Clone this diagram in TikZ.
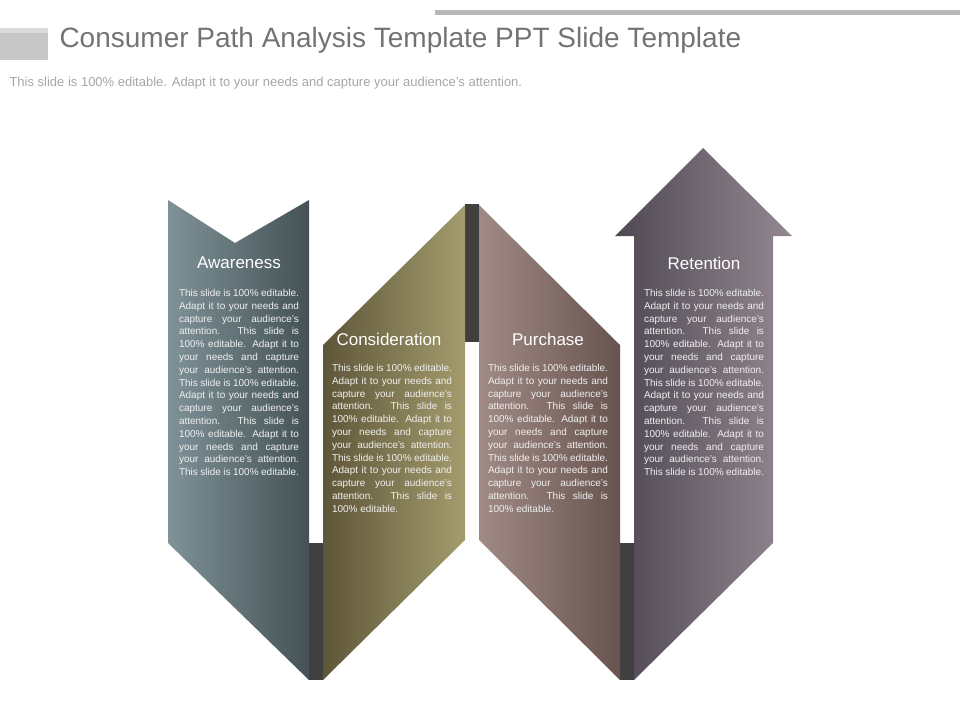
\documentclass[tikz,border=0pt]{standalone}
\usepackage{fontspec}
\setmainfont{Liberation Sans}
\newcommand{\bt}{This slide is 100\% editable. Adapt it to your needs and capture your audience's attention. }
\begin{document}
\begin{tikzpicture}[x=1pt,y=-1pt,
  lbl/.style={text=white,font=\fontsize{17}{20}\selectfont},
  body/.style={text=white!88!gray,anchor=north,inner sep=0pt,text width=120pt,align=justify,font=\fontsize{10}{12.8}\selectfont},
  bar/.style={fill=black!75}]
\useasboundingbox (0,0) rectangle (960,720);
% header
\fill[black!22] (0,28) rectangle (48,60);
\fill[black!14] (0,28) rectangle (48,33);
\fill[black!28] (435,10) rectangle (960,15);
\node[anchor=west,text=black!55,font=\fontsize{28}{32}\selectfont] (title) at (56,40) {Consumer Path Analysis Template PPT Slide Template};
\node[anchor=west,text=black!35,font=\fontsize{13}{15}\selectfont] (sub) at (6,83) {This slide is 100\% editable. Adapt it to your needs and capture your audience's attention.};
% bars
\fill[bar] (309,543) rectangle (323,680);
\fill[bar] (465,204) rectangle (479,342);
\fill[bar] (620,543) rectangle (634,680);
% shapes
\shade[left color={rgb,255:red,127;green,146;blue,152}, right color={rgb,255:red,68;green,82;blue,85}]
 (168,200) -- (235,243) -- (309,200) -- (309,680) -- (168,543) -- cycle;
\shade[left color={rgb,255:red,94;green,86;blue,56}, right color={rgb,255:red,164;green,156;blue,110}]
 (323,345) -- (465,205) -- (465,540) -- (323,680) -- cycle;
\shade[left color={rgb,255:red,160;green,138;blue,134}, right color={rgb,255:red,104;green,84;blue,78}]
 (479,205) -- (620,345) -- (620,680) -- (479,540) -- cycle;
\shade[left color={rgb,255:red,78;green,72;blue,82}, right color={rgb,255:red,148;green,136;blue,146}]
 (634,236) -- (615,236) -- (703,148) -- (792,236) -- (773,236) -- (773,543) -- (634,680) -- cycle;
% labels
\node[lbl] (l1) at (239,263) {Awareness};
\node[lbl] (l2) at (389,339) {Consideration};
\node[lbl] (l3) at (548,339) {Purchase};
\node[lbl] (l4) at (704,263) {Retention};
\node[body] (b1) at (239,289) {\bt\bt\bt\bt This slide is 100\% editable.};
\node[body] (b2) at (392,364) {\bt\bt\bt This slide is 100\% editable.};
\node[body] (b3) at (548,364) {\bt\bt\bt This slide is 100\% editable.};
\node[body] (b4) at (704,289) {\bt\bt\bt\bt This slide is 100\% editable.};
\end{tikzpicture}
\end{document}
